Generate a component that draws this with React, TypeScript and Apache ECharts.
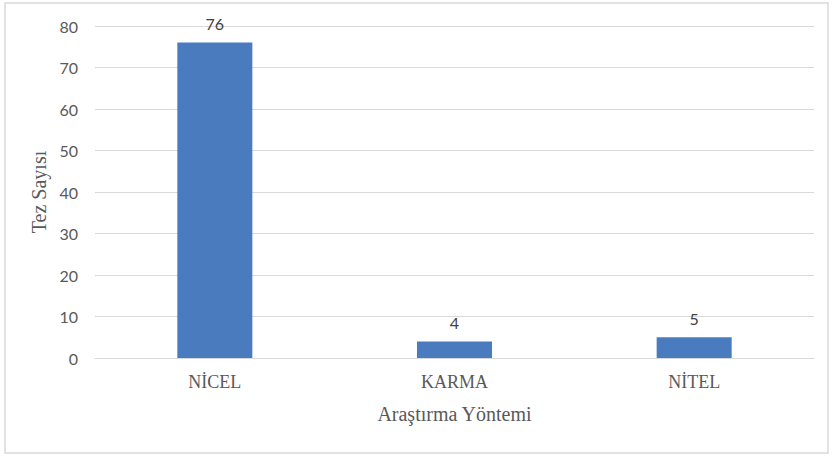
import React, { useEffect, useRef } from "react";
import * as echarts from "echarts";

const categories = ["NİCEL", "KARMA", "NİTEL"];
const values = [76, 4, 5];
const yTicks = { min: 0, max: 80, interval: 10 };
const xAxisName = "Araştırma Yöntemi";
const yAxisName = "Tez Sayısı";

export default function App() {
  const ref = useRef<HTMLDivElement>(null);
  useEffect(() => {
    if (!ref.current) return;
    const chart = echarts.init(ref.current, null, { renderer: "svg" });
    chart.setOption({
      animation: false,
      backgroundColor: "#ffffff",
      graphic: [
        {
          type: "rect",
          shape: { x: 5, y: 3, width: 823, height: 450 },
          style: { fill: "none", stroke: "#d9d9d9", lineWidth: 1.5 },
          silent: true,
        },
      ],
      grid: { left: 95, right: 18, top: 26, bottom: 98 },
      xAxis: {
        type: "category",
        data: categories,
        name: xAxisName,
        nameLocation: "middle",
        nameGap: 46,
        nameTextStyle: { fontFamily: "Liberation Serif", fontSize: 20, color: "#595959" },
        axisLine: { lineStyle: { color: "#d9d9d9", width: 1 } },
        axisTick: { show: false },
        axisLabel: { fontFamily: "Liberation Serif", fontSize: 18, color: "#595959", margin: 15 },
      },
      yAxis: {
        type: "value",
        min: yTicks.min,
        max: yTicks.max,
        interval: yTicks.interval,
        name: yAxisName,
        nameLocation: "middle",
        nameGap: 44,
        nameTextStyle: { fontFamily: "Liberation Serif", fontSize: 20, color: "#595959" },
        axisLine: { show: false },
        axisTick: { show: false },
        axisLabel: { fontFamily: "Lato", fontSize: 16, color: "#595959", margin: 17 },
        splitLine: { lineStyle: { color: "#d9d9d9", width: 1 } },
      },
      series: [
        {
          type: "bar",
          data: values,
          barWidth: "31.3%",
          itemStyle: { color: "#4a7bbf" },
          label: {
            show: true,
            position: "top",
            distance: 11,
            fontFamily: "Lato",
            fontSize: 16,
            color: "#404040",
          },
        },
      ],
    });
    return () => chart.dispose();
  }, []);
  return (
    <div
      ref={ref}
      style={{ position: "fixed", left: 0, top: 0, width: 832, height: 456 }}
    />
  );
}
